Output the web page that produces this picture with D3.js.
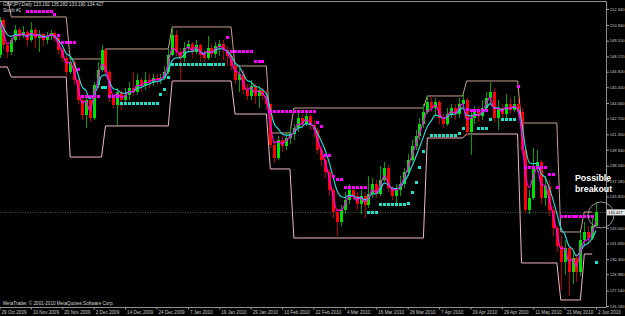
<!DOCTYPE html>
<html>
<head>
<meta charset="utf-8">
<script src="https://cdn.jsdelivr.net/npm/d3@7"></script>
<style>
	body { margin: 0; background: #000; }
	svg { display: block; }
	text { font-family: "Liberation Sans", Arial, sans-serif; }
	.axis text { fill: #c8c8c8; font-size: 4.6px; }
	.axis.y-axis text { font-size: 4.1px; }
	.axis line { stroke: #a0a0a0; }
	.axis path { display: none; }
	.header { fill: #d8d8d8; font-size: 4.6px; }
	.note { fill: #fff; font-size: 8.8px; font-weight: bold; }
</style>
</head>
<body>
<div id="chart"></div>
<script>
// GBPJPY daily, 29 Oct 2009 .. 2 Jun 2010 (one value per bar)
const firstOpen = 148.29;
const closes = [
	151.37, 149.17, 148.55, 149.61, 150.49, 149.96, 150.31, 149.61, 150.49, 149.79,
	150.14, 149.61, 149.96, 150.23, 149.79, 148.73, 148.02, 146.79, 147.67, 146.09,
	144.33, 143.00, 144.33, 142.74, 145.65, 146.97, 148.73, 146.79, 144.50, 143.89,
	145.03, 144.33, 144.77, 145.38, 145.03, 146.09, 145.56, 146.09, 145.91, 146.26,
	146.09, 146.26, 146.79, 148.29, 150.05, 148.55, 148.02, 148.90, 149.26, 148.55,
	149.17, 148.29, 148.02, 148.90, 148.38, 149.08, 149.26, 148.73, 148.20, 147.32,
	146.09, 146.62, 145.21, 144.68, 145.56, 144.68, 145.21, 144.68, 143.97, 140.36,
	139.22, 140.80, 140.27, 140.98, 141.33, 141.86, 142.74, 142.21, 142.92, 142.12,
	141.68, 139.92, 139.04, 137.98, 136.40, 134.46, 133.58, 134.64, 135.52, 136.40,
	135.87, 135.17, 135.87, 135.08, 136.05, 136.93, 136.05, 137.28, 138.34, 136.57,
	135.87, 136.40, 136.93, 137.98, 139.04, 140.27, 141.15, 142.21, 143.27, 144.15,
	143.62, 144.15, 142.74, 142.21, 143.09, 143.62, 143.09, 143.97, 144.33, 141.51,
	142.74, 143.27, 142.92, 143.62, 144.50, 145.03, 142.74, 143.62, 143.09, 143.97,
	143.44, 143.97, 143.27, 139.92, 134.64, 135.69, 138.51, 138.86, 135.69, 136.75,
	134.64, 133.05, 131.47, 130.06, 131.29, 129.18, 130.41, 129.18, 131.99, 132.70,
	132.17, 133.19, 134.427
];
const highs = [
	151.64, 151.55, 149.17, 149.79, 150.93, 150.67, 150.84, 150.49, 151.20, 150.67,
	150.49, 150.23, 150.31, 150.49, 150.40, 149.96, 148.90, 148.29, 148.20, 147.85,
	146.26, 144.50, 144.68, 144.50, 145.91, 147.67, 149.17, 148.90, 146.97, 144.77,
	145.38, 145.21, 145.38, 145.91, 146.79, 146.62, 146.26, 146.79, 146.62, 146.62,
	146.62, 146.62, 147.32, 148.90, 150.76, 150.49, 148.90, 149.43, 149.61, 149.43,
	149.61, 149.26, 148.73, 149.96, 149.26, 149.43, 149.61, 149.61, 149.08, 148.55,
	147.67, 147.14, 146.97, 145.73, 146.09, 145.73, 145.56, 145.38, 145.21, 143.97,
	140.80, 141.15, 141.15, 141.51, 141.86, 142.21, 143.27, 143.09, 143.44, 143.09,
	142.56, 141.86, 140.27, 139.22, 138.16, 136.57, 134.81, 135.08, 136.22, 136.93,
	136.75, 136.22, 136.40, 136.22, 137.63, 137.46, 137.28, 138.51, 138.86, 138.60,
	136.75, 136.93, 137.63, 138.34, 139.57, 140.80, 141.68, 142.74, 143.97, 144.68,
	144.68, 144.50, 144.33, 143.09, 143.62, 143.97, 143.97, 144.50, 144.85, 144.50,
	143.27, 143.80, 143.80, 144.33, 145.03, 145.91, 145.38, 144.33, 143.97, 144.85,
	144.50, 144.68, 144.50, 143.62, 140.10, 136.40, 140.10, 139.92, 139.04, 137.63,
	137.28, 134.99, 133.23, 132.35, 131.99, 131.47, 131.11, 130.76, 132.70, 133.58,
	133.23, 133.93, 135.282
];
const lows = [
	148.02, 148.73, 148.02, 148.29, 149.43, 149.61, 149.79, 149.08, 149.43, 148.90,
	148.55, 149.08, 149.26, 149.61, 149.43, 148.38, 147.67, 146.44, 146.62, 145.65,
	143.97, 142.56, 141.86, 142.39, 142.56, 145.38, 146.79, 146.53, 144.15, 143.62,
	142.12, 143.44, 143.89, 144.33, 144.68, 144.77, 145.03, 145.21, 145.38, 145.56,
	145.73, 145.73, 146.09, 146.62, 148.20, 148.20, 146.09, 147.67, 148.55, 148.02,
	148.38, 147.67, 147.67, 147.85, 148.02, 148.02, 148.20, 147.85, 147.32, 146.97,
	145.73, 145.03, 144.85, 144.33, 144.33, 143.97, 143.62, 144.33, 143.44, 140.10,
	138.78, 139.05, 139.75, 139.92, 140.45, 140.80, 141.51, 141.86, 142.04, 141.68,
	140.98, 139.57, 138.51, 137.46, 135.87, 133.93, 132.35, 133.23, 134.28, 135.17,
	135.52, 134.64, 134.28, 133.93, 134.81, 135.69, 135.69, 135.87, 137.10, 136.22,
	135.52, 135.17, 135.87, 136.57, 137.63, 138.86, 139.92, 140.80, 141.86, 143.09,
	143.27, 142.92, 142.21, 141.86, 142.04, 142.74, 142.56, 142.74, 143.62, 141.15,
	139.48, 142.21, 142.39, 142.56, 143.27, 143.97, 142.39, 141.68, 142.74, 142.74,
	143.09, 143.27, 142.92, 139.57, 134.28, 134.28, 135.52, 137.98, 135.17, 134.99,
	134.11, 132.35, 130.94, 127.59, 128.91, 127.06, 128.12, 128.29, 128.82, 131.47,
	131.64, 131.99, 133.19
];

// stepped channel: bar ranges and levels
const chanStart = [0, 3, 18, 27, 44, 60, 69, 75, 109, 119, 133, 143, 149];
const chanEnd = [2, 17, 26, 43, 59, 68, 74, 108, 118, 132, 142, 148, 151];
const chanUpper = [153.5, 151.64, 147.94, 148.82, 150.76, 147.32, 141.42, 143.62, 144.68, 146.0, 142.3, 132.7, 134.46];
const chanLower = [147.23, 146.35, 139.3, 142.04, 146.0, 143.09, 138.25, 132.17, 140.98, 141.33, 129.97, 126.71, 130.76];

// dot runs: [first bar, last bar, price]
const magentaDots = [
	[7, 13, 152.19], [14, 14, 151.9], [15, 15, 150.05], [16, 19, 149.41], [20, 20, 147.06],
	[21, 25, 144.7], [28, 30, 144.68], [58, 58, 149.9], [59, 64, 148.67], [65, 67, 147.76],
	[69, 80, 143.38], [81, 81, 142.41], [82, 82, 142.03], [83, 84, 139.48], [85, 85, 137.66],
	[86, 87, 137.37], [88, 93, 136.66], [119, 119, 143.53], [120, 124, 143.44], [132, 132, 145.56],
	[134, 139, 138.45], [140, 141, 137.81], [142, 142, 136.66], [143, 151, 134.11]
];
const cyanDots = [
	[26, 27, 145.44], [31, 40, 144.09], [41, 41, 144.83], [42, 42, 145.29], [43, 43, 146.32],
	[44, 57, 147.47], [94, 96, 134.43], [97, 103, 135.14], [104, 104, 135.28], [105, 105, 136.22],
	[106, 106, 137.13], [107, 107, 138.45], [108, 108, 139.83], [110, 116, 141.24], [117, 117, 141.42],
	[118, 118, 141.88], [122, 124, 141.83], [125, 125, 142.65], [128, 131, 142.65], [152, 152, 130.02]
];

const yTicks = [152.34, 150.94, 149.55, 148.17, 146.82, 145.45, 144.06, 142.7, 141.3, 139.94,
	138.54, 137.18, 135.82, 133.06, 131.69, 130.3, 128.98, 127.54, 126.18];
const xLabels = ["29 Oct 2009", "10 Nov 2009", "20 Nov 2009", "2 Dec 2009", "14 Dec 2009",
	"24 Dec 2009", "7 Jan 2010", "19 Jan 2010", "29 Jan 2010", "10 Feb 2010", "22 Feb 2010",
	"4 Mar 2010", "16 Mar 2010", "26 Mar 2010", "7 Apr 2010", "19 Apr 2010", "29 Apr 2010",
	"11 May 2010", "21 May 2010", "2 Jun 2010"];
const lastPrice = 134.427;

const width = 625, height = 316;
const plotRight = 606, plotTop = 1, plotBottom = 307;

const svg = d3.select("#chart").append("svg")
	.attr("width", width)
	.attr("height", height)
	.style("background", "#000");

const x = d3.scaleLinear().domain([0, 152]).range([-0.5, 596.1]);
const y = d3.scaleLinear().domain([126.18, 152.34]).range([306, 9]);

svg.append("clipPath").attr("id", "plot")
	.append("rect").attr("x", 0).attr("y", plotTop).attr("width", plotRight).attr("height", plotBottom - plotTop);

const chart = svg.append("g").attr("clip-path", "url(#plot)");

// bid line
chart.append("line")
	.attr("x1", 0).attr("x2", plotRight)
	.attr("y1", Math.round(y(lastPrice)) + 0.5).attr("y2", Math.round(y(lastPrice)) + 0.5)
	.attr("stroke", "#3c5e3c").attr("stroke-dasharray", "1,1.5");

// channel
function stepPoints(levels) {
	const pts = [];
	levels.forEach((v, k) => {
		pts.push([x(chanStart[k]), y(v)]);
		pts.push([x(chanEnd[k]), y(v)]);
	});
	return pts;
}
chart.append("path")
	.attr("d", d3.line()(stepPoints(chanUpper)))
	.attr("fill", "none").attr("stroke", "#c8a090").attr("stroke-width", 1);
chart.append("path")
	.attr("d", d3.line()(stepPoints(chanLower)))
	.attr("fill", "none").attr("stroke", "#f0b8c0").attr("stroke-width", 1);

// candles
const bars = closes.map((c, i) => ({
	i, o: i ? closes[i - 1] : firstOpen, h: highs[i], l: lows[i], c
}));
const candle = chart.append("g").attr("shape-rendering", "crispEdges")
	.selectAll("g").data(bars).enter().append("g");
candle.append("rect")
	.attr("x", d => Math.round(x(d.i)))
	.attr("width", 1)
	.attr("y", d => y(d.h))
	.attr("height", d => y(d.l) - y(d.h))
	.attr("fill", d => d.c >= d.o ? "#00a000" : "#b00000");
candle.append("rect")
	.attr("x", d => Math.round(x(d.i)) - 1)
	.attr("width", 3)
	.attr("y", d => y(Math.max(d.o, d.c)))
	.attr("height", d => Math.max(1, Math.abs(y(d.o) - y(d.c))))
	.attr("fill", d => d.c >= d.o ? "#00e000" : "#ff0000");

// moving averages
function ema(vals, a) {
	let p = vals[0];
	return vals.map((v, i) => (p = i ? p + a * (v - p) : v));
}
const line = d3.line().x((d, i) => x(i)).y(d => y(d)).curve(d3.curveMonotoneX);
chart.append("path").attr("d", line(ema(closes, 0.3)))
	.attr("fill", "none").attr("stroke", "#20d8d8").attr("stroke-width", 1.2);
chart.append("path").attr("d", line(ema(closes, 0.55)))
	.attr("fill", "none").attr("stroke", "#ff00ff").attr("stroke-width", 1.2);

// dots
function drawDots(runs, color) {
	const pts = [];
	runs.forEach(([a, b, v]) => { for (let i = a; i <= b; i++) pts.push([i, v]); });
	chart.append("g").attr("shape-rendering", "crispEdges")
		.selectAll("rect").data(pts).enter().append("rect")
		.attr("x", d => Math.round(x(d[0])) - 1)
		.attr("y", d => Math.round(y(d[1])) - 1)
		.attr("width", 2.5).attr("height", 2.5)
		.attr("fill", color);
}
drawDots(magentaDots, "#ff00ff");
drawDots(cyanDots, "#20e0c8");

// frame
svg.append("path")
	.attr("d", `M0,${plotTop + 0.5}H${plotRight + 0.5}V${plotBottom + 0.5}H0`)
	.attr("fill", "none").attr("stroke", "#909090").attr("stroke-width", 1);

// axes
svg.append("g")
	.attr("class", "axis y-axis")
	.attr("transform", `translate(${plotRight + 0.5},0)`)
	.call(d3.axisRight(y).tickValues(yTicks).tickSize(2.5).tickPadding(0.8).tickFormat(d3.format(".3f")));

const xAxis = svg.append("g")
	.attr("class", "axis x-axis")
	.attr("transform", `translate(0,${plotBottom + 0.5})`)
	.call(d3.axisBottom(x).tickValues(xLabels.map((d, k) => k * 8)).tickSize(2).tickPadding(1)
		.tickFormat((d, k) => xLabels[k]));
xAxis.selectAll("text").attr("text-anchor", "start").attr("x", 1.5);

// last price box
const py = y(lastPrice);
svg.append("rect").attr("x", plotRight + 1).attr("y", py - 3).attr("width", 18).attr("height", 6).attr("fill", "#e6e6e6");
svg.append("text").attr("x", plotRight + 2).attr("y", py + 1.5).attr("font-size", 4.1).attr("fill", "#000")
	.text(lastPrice.toFixed(3));

// header and footer
svg.append("text").attr("class", "header").attr("x", 3).attr("y", 6)
	.text("GBPJPY,Daily 133.192 135.282 133.190 134.427");
svg.append("text").attr("class", "header").attr("x", 3).attr("y", 12).text("Stoch #1");
svg.append("text").attr("class", "header").attr("x", 3).attr("y", 305)
	.text("MetaTrader, © 2001-2010 MetaQuotes Software Corp.");

// annotation
svg.append("circle").attr("cx", 601).attr("cy", 215).attr("r", 13)
	.attr("fill", "none").attr("stroke", "#b0b0b0").attr("stroke-width", 0.8);
svg.append("text").attr("class", "note").attr("x", 575).attr("y", 181).text("Possible");
svg.append("text").attr("class", "note").attr("x", 575).attr("y", 192).text("breakout");
</script>
</body>
</html>
